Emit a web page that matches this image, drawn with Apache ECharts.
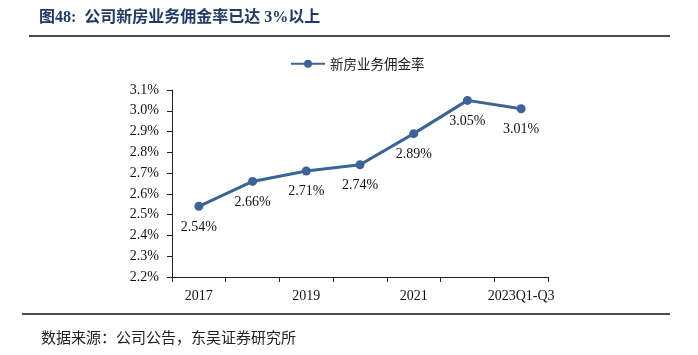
<!DOCTYPE html>
<html><head><meta charset="utf-8">
<script src="https://cdn.jsdelivr.net/npm/echarts@6/dist/echarts.min.js"></script>
<style>html,body{margin:0;padding:0;background:#fff}#c{width:698px;height:355px}</style>
</head><body><div id="c"></div>
<script>
const categories = ['2017','2018','2019','2020','2021','2022','2023Q1-Q3'];
const seriesName = '新房业务佣金率';
const values = [2.54, 2.66, 2.71, 2.74, 2.89, 3.05, 3.01];
const yMin = 2.2, yMax = 3.1, yStep = 0.1;
const titleText = '图48:  公司新房业务佣金率已达 3%以上';
const sourceText = '数据来源：公司公告，东吴证券研究所';

const serif = '"Liberation Serif","Times New Roman","Noto Sans CJK SC",serif';
const lineColor = '#3a6497';
const chart = echarts.init(document.getElementById('c'));
chart.setOption({
  animation: false,
  backgroundColor: '#fff',
  grid: { left: 172, right: 150, top: 90, bottom: 78, containLabel: false },
  legend: {
    data: [seriesName], top: 52, left: 285,
    itemWidth: 34, itemHeight: 10, itemGap: 4,
    textStyle: { fontFamily: '"Noto Sans CJK SC",serif', fontSize: 13.5, color: '#222' }
  },
  xAxis: {
    type: 'category', data: categories, boundaryGap: true,
    axisLine: { lineStyle: { color: '#222', width: 1 } },
    axisTick: { show: true, alignWithLabel: false, interval: 0, length: 5, lineStyle: { color: '#222' } },
    axisLabel: { interval: 1, margin: 12, fontFamily: serif, fontSize: 14, color: '#111' }
  },
  yAxis: {
    type: 'value', min: yMin, max: yMax, interval: yStep,
    splitLine: { show: false },
    axisLine: { show: true, lineStyle: { color: '#222', width: 1 } },
    axisTick: { show: true, length: 5, lineStyle: { color: '#222' } },
    axisLabel: { margin: 13, fontFamily: serif, fontSize: 14, color: '#111',
      formatter: v => v.toFixed(1) + '%' }
  },
  series: [{
    name: seriesName, type: 'line', data: values,
    symbol: 'circle', symbolSize: 9,
    lineStyle: { color: lineColor, width: 3 },
    itemStyle: { color: lineColor },
    label: { show: true, position: 'bottom', distance: 9,
      fontFamily: serif, fontSize: 14, color: '#111',
      formatter: p => p.value.toFixed(2) + '%' }
  }],
  graphic: [
    { type: 'text', left: 39, top: 10, style: { text: titleText, fill: '#1f3a68',
      font: 'bold 16px "Liberation Serif","Noto Sans CJK SC",serif' } },
    { type: 'line', shape: { x1: 29, y1: 36, x2: 670, y2: 36 }, style: { stroke: '#111', lineWidth: 1.5 } },
    { type: 'line', shape: { x1: 22, y1: 314, x2: 670, y2: 314 }, style: { stroke: '#111', lineWidth: 1.5 } },
    { type: 'text', left: 41, top: 330, style: { text: sourceText, fill: '#222',
      font: '15px "Noto Sans CJK SC",serif' } }
  ]
});
</script></body></html>
